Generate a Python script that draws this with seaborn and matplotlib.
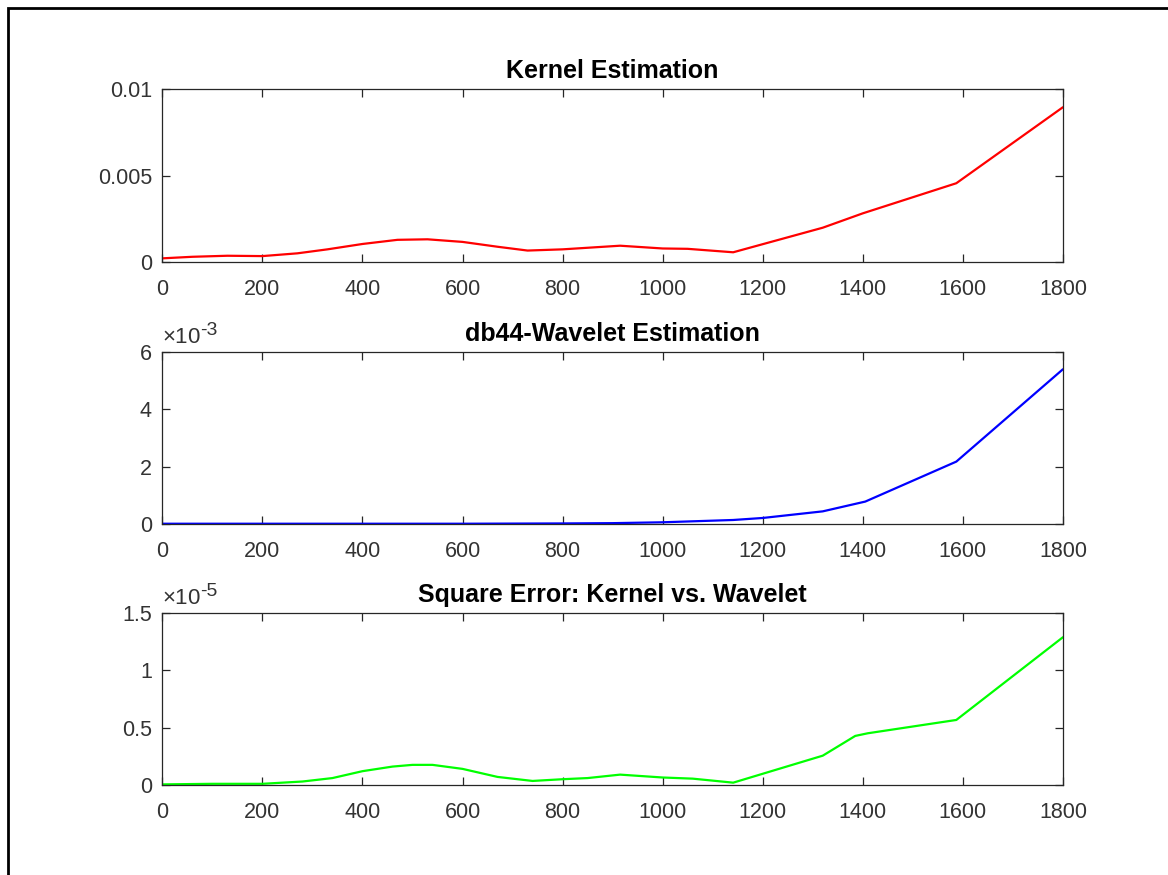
import numpy as np
import pandas as pd
import seaborn as sns
import matplotlib.pyplot as plt
from matplotlib.patches import Rectangle

# values
kernel_x = [0, 60, 130, 200, 270, 330, 400, 470, 530, 600, 670, 730, 800, 915, 1000, 1050, 1141, 1320, 1400, 1587, 1800]
kernel_y = [0.00023, 0.00032, 0.00038, 0.00036, 0.00052, 0.00075, 0.00106, 0.0013, 0.00133, 0.00118,
            0.0009, 0.00068, 0.00075, 0.00096, 0.0008, 0.00078, 0.00058, 0.0020, 0.00283, 0.00457, 0.00896]

wavelet_x = [0, 200, 400, 600, 800, 900, 1000, 1141, 1200, 1320, 1405, 1587, 1800]
wavelet_y = [0.00002, 0.00002, 0.00002, 0.00002, 0.00003, 0.00004, 0.00007, 0.00015, 0.00022,
             0.00045, 0.00079, 0.00218, 0.00539]

err_x = [0, 100, 200, 280, 340, 400, 460, 500, 540, 600, 670, 740, 800, 850, 915, 1000, 1060, 1141,
         1320, 1385, 1410, 1587, 1800]
err_y = [0.005, 0.01, 0.01, 0.03, 0.06, 0.12, 0.16, 0.175, 0.175, 0.14, 0.07, 0.035, 0.05, 0.06,
         0.09, 0.065, 0.055, 0.02, 0.255, 0.427, 0.45, 0.566, 1.286]  # x 1e-5

titles = ["Kernel Estimation", "db44-Wavelet Estimation", "Square Error: Kernel vs. Wavelet"]
x_ticks = list(range(0, 2000, 200))

sns.set_theme(style="ticks")
plt.rcParams["font.family"] = ["Liberation Sans", "DejaVu Sans"]
plt.rcParams["mathtext.fontset"] = "custom"
plt.rcParams["mathtext.rm"] = "Liberation Sans"
plt.rcParams["mathtext.it"] = "Liberation Sans"

fig = plt.figure(figsize=(11.68, 8.75), dpi=100)
# MATLAB-style figure frame
fig.patches.append(Rectangle((8 / 1168, -0.05), 1.2, 1.05 - 8 / 875, transform=fig.transFigure,
                             fill=False, edgecolor="black", linewidth=2))

boxes = [(0.7002, 0.898), (0.4008, 0.598), (0.1029, 0.2998)]
axes = [fig.add_axes([0.139, b, 0.771, t - b]) for b, t in boxes]

sns.lineplot(x=kernel_x, y=kernel_y, ax=axes[0], color="#ff0000", linewidth=1.6)
sns.lineplot(x=wavelet_x, y=np.array(wavelet_y) * 1e3, ax=axes[1], color="#0000ff", linewidth=1.6)
sns.lineplot(x=err_x, y=err_y, ax=axes[2], color="#00ff00", linewidth=1.6)

ylims = [(0, 0.01), (0, 6), (0, 1.5)]
yticks = [[0, 0.005, 0.01], [0, 2, 4, 6], [0, 0.5, 1, 1.5]]
ylabels = [["0", "0.005", "0.01"], ["0", "2", "4", "6"], ["0", "0.5", "1", "1.5"]]
offsets = [None, "-3", "-5"]

for ax, title, yl, yt, ylab, off in zip(axes, titles, ylims, yticks, ylabels, offsets):
    ax.set_xlim(0, 1800)
    ax.set_ylim(*yl)
    ax.set_xticks(x_ticks)
    ax.set_xticklabels([str(v) for v in x_ticks])
    ax.set_yticks(yt)
    ax.set_yticklabels(ylab)
    ax.tick_params(direction="in", length=6, width=0.9, color="#262626", labelcolor="#333333",
                   labelsize=15.5, top=True, right=True)
    ax.tick_params(axis="x", pad=12)
    ax.tick_params(axis="y", pad=7.5)
    for s in ax.spines.values():
        s.set_visible(True)
        s.set_color("#262626")
        s.set_linewidth(0.9)
    ax.set_title(title, fontsize=18, fontweight="bold", color="#000000", pad=8)
    if off:
        ax.text(0.0, 1.02, r"$\times$10", transform=ax.transAxes,
                fontsize=16, color="#333333", ha="left", va="bottom")
        ax.text(0.042, 1.075, off, transform=ax.transAxes,
                fontsize=14, color="#333333", ha="left", va="bottom")

fig.savefig("out.png", dpi=100)
